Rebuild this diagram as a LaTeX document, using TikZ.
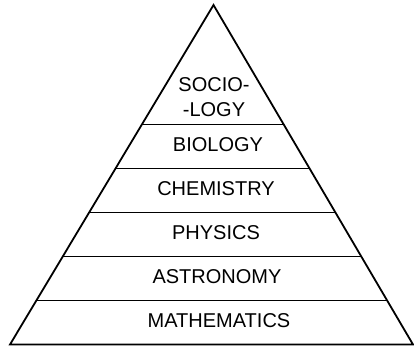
\documentclass[tikz,border=0pt]{standalone}
\usepackage{fontspec}
\setmainfont{Liberation Sans}
\usetikzlibrary{calc}
\tikzset{
  contur/.style  = {draw, line width=1.8pt, line join=miter},
  nivel/.style   = {inner sep=0pt, align=center,
                    font=\fontsize{20}{25}\selectfont}
}
\begin{document}
\begin{tikzpicture}[x=1pt,y=-1pt]
    \useasboundingbox (0,0) rectangle (414,349);
    \coordinate (varf) at (213.5,5);
    \coordinate (stanga) at (10,344.5);
    \coordinate (dreapta) at (413,344.5);

    \draw[contur] (stanga) -- (varf) -- (dreapta) -- cycle;
    \foreach \k in {1,...,5} {
        \coordinate (s\k) at ($(stanga)!\k*0.1296!(varf)$);
        \coordinate (d\k) at ($(dreapta)!\k*0.1296!(varf)$);
        \draw[contur] (s\k) -- (d\k);
    }

    \node[nivel] (matematica) at (219,320.5) {MATHEMATICS};
    \node[nivel] (astronomie) at (217,276.5) {ASTRONOMY};
    \node[nivel] (fizica)     at (216,232.5) {PHYSICS};
    \node[nivel] (chimie)     at (216,188.5) {CHEMISTRY};
    \node[nivel] (biologie)   at (218,145)   {BIOLOGY};
    \node[nivel] (sociologie) at (214,97.5)  {SOCIO-\\-LOGY};
\end{tikzpicture}
\end{document}
